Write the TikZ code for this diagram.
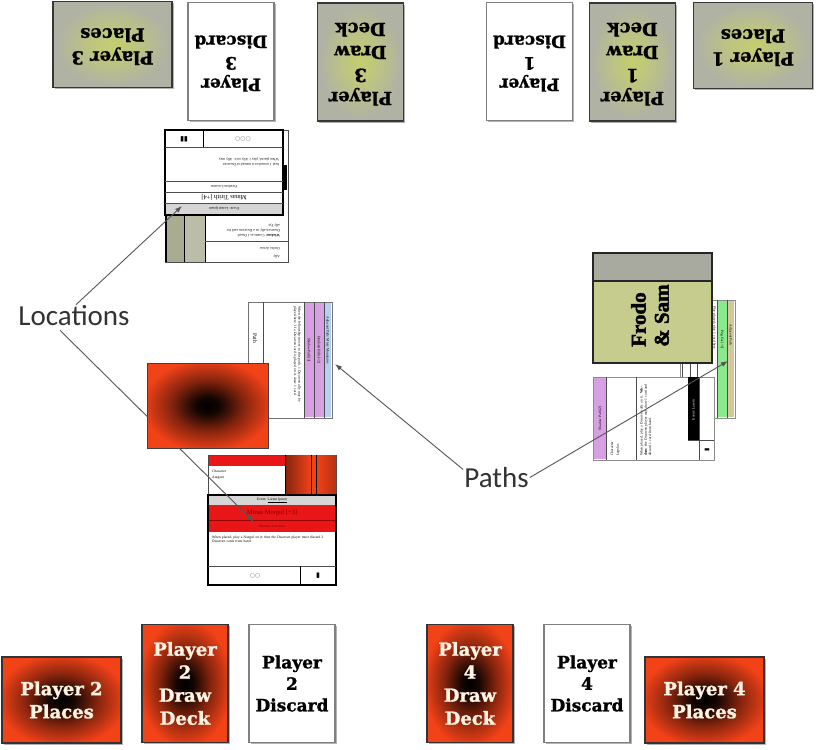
\documentclass[tikz,border=0pt]{standalone}
\usepackage{fontspec}
\usepackage{graphicx}
\setmainfont{Liberation Serif}
\newfontfamily\lblfont{Carlito}
\newfontfamily\cardfont{DejaVu Serif}[BoldFeatures={FakeBold=1.3}]
\newfontfamily\frodofont{Liberation Serif}[BoldFeatures={FakeBold=2}]
\newfontfamily\symfont{DejaVu Sans}
\usetikzlibrary{arrows.meta,shadows}
\definecolor{cardgray}{RGB}{176,178,164}
\definecolor{cardglow}{RGB}{196,206,110}
\definecolor{cardred}{RGB}{242,66,24}
\definecolor{cream}{RGB}{255,244,228}
\definecolor{edge}{RGB}{55,55,55}
\definecolor{arrowgray}{RGB}{85,85,85}
\definecolor{olivecard}{RGB}{197,204,142}
\definecolor{bandgray}{RGB}{168,170,160}
\definecolor{pathpurple}{RGB}{214,160,226}
\definecolor{pathblue}{RGB}{184,206,240}
\definecolor{pathgreen}{RGB}{140,232,140}
\definecolor{pathtan}{RGB}{214,198,158}
\definecolor{locred}{RGB}{232,22,22}
\definecolor{hdrgray}{RGB}{214,214,214}
\definecolor{stripgreen}{RGB}{170,172,146}
\pgfdeclareradialshading{redglow}{\pgfpoint{0bp}{0bp}}{color(0bp)=(black); color(5bp)=(black!92!cardred); color(15bp)=(cardred!55!black); color(27bp)=(cardred); color(50bp)=(cardred)}
\pgfdeclareradialshading{grayglow}{\pgfpoint{0bp}{0bp}}{color(0bp)=(cardglow); color(10bp)=(cardglow!65!cardgray); color(24bp)=(cardgray); color(50bp)=(cardgray)}
\tikzset{
  card/.style={draw=edge, line width=1.3pt, inner sep=0pt, align=center,
    drop shadow={shadow xshift=1.5pt, shadow yshift=-1.5pt, opacity=0.3, fill=black}},
  graycard/.style={card, shading=grayglow, font=\cardfont\bfseries\fontsize{18}{23}\selectfont},
  redcard/.style={card, draw=black!80, shading=redglow, text=cream, font=\cardfont\bfseries\fontsize{18}{23}\selectfont},
  whitecard/.style={card, draw=black!50, fill=white, font=\cardfont\bfseries\fontsize{17}{21.5}\selectfont},
  landscape/.style={minimum width=119pt, minimum height=86pt},
  portrait/.style={minimum width=86pt, minimum height=118pt},
  mini/.style={inner sep=0pt, font=\fontsize{3.6}{4.2}\selectfont},
  thinline/.style={draw=black!70, line width=0.6pt},
  arr/.style={draw=arrowgray, line width=0.9pt, -{Latex[length=7pt,width=5pt]}},
  callout/.style={font=\lblfont\fontsize{29}{32}\selectfont, text=black!80, inner sep=1pt},
}
\begin{document}
\begin{tikzpicture}[x=1pt,y=-1pt]
\useasboundingbox (0,0) rectangle (820,750);
\fill[white] (0,0) rectangle (820,750);

% ---------- top row (upside down) ----------
\node[graycard, landscape] (p3places) at (112.5,44.5) {\rotatebox{180}{\begin{tabular}{@{}c@{}}Player 3\\Places\end{tabular}}};
\node[whitecard, portrait] (p3discard) at (231,61.5) {\rotatebox{180}{\begin{tabular}{@{}c@{}}Player\\3\\Discard\end{tabular}}};
\node[graycard, portrait] (p3draw) at (360.5,62) {\rotatebox{180}{\begin{tabular}{@{}c@{}}Player\\3\\Draw\\Deck\end{tabular}}};
\node[whitecard, portrait] (p1discard) at (529.5,61.5) {\rotatebox{180}{\begin{tabular}{@{}c@{}}Player\\1\\Discard\end{tabular}}};
\node[graycard, portrait] (p1draw) at (632.5,62) {\rotatebox{180}{\begin{tabular}{@{}c@{}}Player\\1\\Draw\\Deck\end{tabular}}};
\node[graycard, landscape] (p1places) at (753,45.5) {\rotatebox{180}{\begin{tabular}{@{}c@{}}Player 1\\Places\end{tabular}}};

% ---------- bottom row ----------
\node[redcard, landscape] (p2places) at (61.5,700) {Player 2\\Places};
\node[redcard, portrait] (p2draw) at (185,683.5) {Player\\2\\Draw\\Deck};
\node[whitecard, portrait] (p2discard) at (292,683.5) {Player\\2\\Discard};
\node[redcard, portrait] (p4draw) at (470,683.5) {Player\\4\\Draw\\Deck};
\node[whitecard, portrait] (p4discard) at (587,683.5) {Player\\4\\Discard};
\node[redcard, landscape] (p4places) at (704.5,700) {Player 4\\Places};

% ---------- top character card (upside down) ----------
\draw[thinline, fill=white] (165,130) rectangle (288,262);
\fill[stripgreen] (166,130) rectangle (184,262);
\fill[stripgreen!80!white] (184,130) rectangle (205,262);
\draw[black, line width=1.2pt] (166,130) -- (166,262);
\draw[black, line width=1pt] (184,130) -- (184,262) (205,130) -- (205,262);
\draw[thinline] (205,241) -- (288,241);
\fill[black] (283,165) rectangle (287,190);
\node[mini, rotate=180, anchor=west] at (280,225) {ally Tyr.};
\node[mini, rotate=180, anchor=west] at (280,230) {Dwarven ally on a Dwarven card for};
\node[mini, rotate=180, anchor=west] at (280,236) {\textbf{Wisdom:} Counts as 1 Dwarf};
\node[mini, rotate=180, anchor=west] at (280,249) {On the Arrow};
\node[mini, rotate=180, anchor=west] at (280,256) {Ally};

% ---------- top location card (upside down) ----------
\draw[black, line width=1.2pt, fill=white] (165,130) rectangle (283,215);
\draw[thinline] (165,147) -- (283,147);
\draw[black, line width=1pt] (203,130) -- (203,147);
\node[rotate=180, inner sep=0pt, font=\symfont\fontsize{7}{7}\selectfont] at (184,139) {▮▮};
\node[rotate=180, inner sep=0pt, font=\symfont\fontsize{6}{6}\selectfont, text=black!50] at (243,139) {○○○};
\node[mini, rotate=180, anchor=west] at (279,159) {When placed, play 1 Ally on it. Ally may};
\node[mini, rotate=180, anchor=west] at (279,165) {heal 1 wound on it instead of Dwarven};
\draw[thinline] (165,181) -- (283,181);
\node[mini, rotate=180] at (224,186.5) {Freedom Location};
\draw[thinline] (165,192) -- (283,192);
\node[rotate=180, inner sep=0pt, font=\fontsize{6.5}{7}\selectfont] at (224,197.5) {Minas Tirith [+4]};
\fill[hdrgray] (166,203) rectangle (282,214);
\draw[thinline] (165,203) -- (283,203);
\node[mini, rotate=180] at (224,208.5) {Event: Lorem Ipsum};

% ---------- middle-left path card ----------
\draw[draw=black!55, line width=1pt, fill=white] (248,302) rectangle (332,418);
\fill[pathpurple] (304,303) rectangle (324,417);
\fill[pathblue] (324,303) rectangle (331,417);
\draw[thinline] (263,302) -- (263,418) (304,302) -- (304,418) (314,302) -- (314,418) (324,302) -- (324,418);
\node[rotate=-90, inner sep=0pt, font=\fontsize{5.5}{6}\selectfont] at (255,338) {Path};
\node[mini, rotate=-90, anchor=north west, align=left, text width=100pt] at (301,306) {When the fellowship moves to this path, 1 Dwarven ally may be played here. If a Dwarven card is played on it, draw 1 card.};
\node[mini, rotate=-90] at (319,350) {Dunland Hills [+2]};
\node[mini, rotate=-90] at (309,350) {Shadow Path [3]};
\node[mini, rotate=-90] at (327.5,340) {Adjacent Path: Misty Mountains};

% ---------- bottom character card ----------
\draw[thinline, fill=white] (208,455) rectangle (336,540);
\fill[locred] (209,456) rectangle (285,466);
\node[mini, anchor=west] at (212,471) {Character};
\node[mini, anchor=west] at (212,478) {Aragorn};
\shade[left color=cardred!55!black, right color=cardred] (285,455) rectangle (311,495);
\shade[left color=cardred, right color=cardred!75!black] (316,455) rectangle (336,495);
\fill[cardred] (311,455) rectangle (316,495);
\draw[black, line width=1pt] (285,455) -- (285,495) (311,455) -- (311,495) (316,455) -- (316,495);

% ---------- bottom location card ----------
\draw[black, line width=1.2pt, fill=white] (208,495) rectangle (336,585);
\fill[hdrgray] (209,496) rectangle (335,505);
\node[mini] at (272,500.5) {Event: \underline{Lorem Ipsum}};
\fill[locred] (209,505) rectangle (335,532);
\draw[red!60!black, line width=.5pt] (209,520) -- (335,520);
\node[inner sep=0pt, font=\fontsize{6.5}{7}\selectfont, text=red!55!black] at (272,512.5) {Minas Morgul [+3]};
\node[mini, text=red!55!black] at (272,526) {Shadow Location};
\node[mini, anchor=north west, align=left, text width=118pt] at (212,536) {When placed, play a Nazgul on it; then the Dwarven player must discard 2 Dwarven cards from hand.};
\draw[thinline] (208,566) -- (336,566);
\draw[black, line width=1pt] (300,566) -- (300,585);
\node[inner sep=0pt, font=\symfont\fontsize{6}{6}\selectfont, text=black!50] at (255,576) {○○};
\node[inner sep=0pt, font=\symfont\fontsize{7}{7}\selectfont] at (318,576) {▮};

% ---------- right side ----------
\draw[draw=black!45, line width=.8pt, fill=white] (680,300) rectangle (735,418);
\fill[pathgreen] (717,301) rectangle (727,417);
\fill[pathtan] (727,301) rectangle (734,417);
\draw[thinline] (682,300) -- (682,418) (690,300) -- (690,418) (697,300) -- (697,418) (717,300) -- (717,418) (727,300) -- (727,418);
\node[mini, rotate=-90] at (722,340) {Pug Fai [+1]};
\node[mini, rotate=-90] at (730.5,335) {Adjacent Path};
\node[mini, rotate=-90, anchor=north west, align=left, text width=60pt] at (716,306) {Play placed; play 1 card here.};

\draw[black!85, line width=1.3pt, fill=olivecard] (593,253) rectangle (712,363);
\draw[black!85, line width=1.3pt, fill=bandgray] (593,253) rectangle (712,281);
\node[rotate=90, anchor=west, align=left, inner sep=0pt, font=\frodofont\bfseries\fontsize{21}{23}\selectfont] (frodo) at (650,347) {Frodo\\\& Sam};

\draw[draw=black!45, line width=.8pt, fill=white] (593,377) rectangle (714,460);
\fill[pathpurple] (594,378) rectangle (606,459);
\draw[thinline] (606,377) -- (606,460) (636,377) -- (636,460);
\fill[black] (688,377) rectangle (699,440);
\draw[thinline] (699,377) -- (699,460) (688,440) -- (714,440);
\node[mini, rotate=90] at (600,418) {Shadow Path [2]};
\node[mini, rotate=90, anchor=west] at (612,456) {Character};
\node[mini, rotate=90, anchor=west] at (618,456) {Legolas};
\node[mini, rotate=90, anchor=north west, align=left, text width=75pt] at (640,456) {When placed, play a Dwarven ally on it. \textbf{Wisdom:} the Dwarven player may draw 1 card and discard 1 card from hand.};
\node[mini, rotate=90, text=white] at (693.5,410) {Event: Lorem};
\node[inner sep=0pt, font=\symfont\fontsize{6}{6}\selectfont, rotate=90] at (707,450) {▮};

% ---------- callouts ----------
\node[callout] (loc) at (74,316) {Locations};
\node[callout] (paths) at (496.5,477.5) {Paths};
\coordinate (tipA) at (182,206);
\coordinate (tipB) at (254,522);
\coordinate (tipC) at (335,364);
\coordinate (tipD) at (728,361);
\draw[arr] ([xshift=2pt]loc.north) -- (tipA);
\draw[arr] ([xshift=-14pt,yshift=-3pt]loc.south) -- (tipB);
\draw[arr] ([yshift=8pt]paths.west) -- (tipC);
\draw[arr] (paths.east) -- (tipD);

% red location square over the lower-left arrow
\shadedraw[shading=redglow, draw=black!75, line width=1pt] (147,363) rectangle (268,448);
\end{tikzpicture}
\end{document}
